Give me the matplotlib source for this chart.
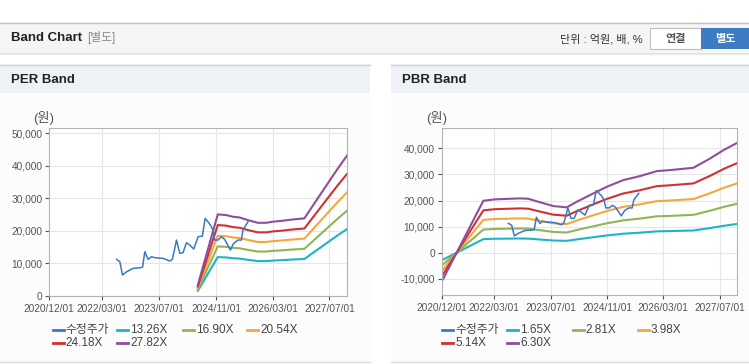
import matplotlib.pyplot as plt
import pandas as pd
from matplotlib.patches import Rectangle
from matplotlib.lines import Line2D
from matplotlib.ticker import FuncFormatter

plt.rcParams['font.family'] = ['Liberation Sans', 'Noto Sans CJK KR', 'DejaVu Sans']

# adjusted share price (same series on both charts)
price_dates = ['2022-07-01', '2022-07-29', '2022-08-21', '2022-09-25', '2022-11-20', '2023-01-23',
               '2023-02-09', '2023-02-28', '2023-03-29', '2023-04-27', '2023-05-25', '2023-08-04',
               '2023-09-30', '2023-10-23', '2023-11-27', '2023-12-25', '2024-01-22', '2024-02-20',
               '2024-03-20', '2024-04-23', '2024-05-30', '2024-07-06', '2024-07-29', '2024-08-23',
               '2024-09-13', '2024-10-05', '2024-10-20', '2024-11-17', '2024-12-16', '2025-01-13',
               '2025-03-03', '2025-03-31', '2025-05-07', '2025-06-05', '2025-06-19', '2025-08-01']
price = [11260, 10520, 6440, 7450, 8500, 8690, 8900, 13600, 11260, 12060, 11760, 11560,
         10740, 11300, 17180, 13100, 13290, 16350, 15640, 14420, 18190, 18400, 23830, 22790,
         21780, 20250, 17180, 17180, 18190, 17390, 14110, 16150, 17180, 17180, 20250, 22790]

# EPS used for PER band
eps_dates = ['2024-05-28', '2024-11-15', '2025-01-27', '2025-03-24', '2025-05-21', '2025-07-31',
             '2025-10-24', '2026-01-04', '2026-03-02', '2026-05-26', '2026-08-20', '2026-11-28',
             '2027-03-08', '2027-06-02', '2027-08-27', '2027-12-01']
eps = [121, 901, 893, 875, 867, 838, 808, 808, 820, 831, 845, 857, 1050, 1215, 1380, 1555]
per_mult = [13.26, 16.90, 20.54, 24.18, 27.82]

# BPS used for PBR band
bps_dates = ['2020-12-01', '2021-11-26', '2022-03-07', '2022-10-09', '2022-12-20', '2023-03-16',
             '2023-07-24', '2023-11-17', '2024-02-12', '2024-07-05', '2024-10-29', '2025-03-21',
             '2025-08-13', '2026-01-04', '2026-04-30', '2026-11-17', '2027-04-11', '2027-08-04',
             '2027-12-01']
bps = [-1762, 3162, 3248, 3308, 3284, 3102, 2840, 2760, 3102, 3613, 4014, 4422,
       4665, 4968, 5030, 5170, 5741, 6246, 6690]
pbr_mult = [1.65, 2.81, 3.98, 5.14, 6.30]

x_ticks = ['2020-12-01', '2022-03-01', '2023-07-01', '2024-11-01', '2026-03-01', '2027-07-01']
price_color = '#3a78c8'
band_colors = ['#1db4c6', '#8fb654', '#f3a83b', '#d03131', '#8f4d9d']

W, H = 749, 364
fig = plt.figure(figsize=(W / 100, H / 100), dpi=100)


def fx(x):
    return x / W


def fy(y):
    return 1 - y / H


def box(x0, y0, x1, y1, **kw):
    fig.patches.append(Rectangle((fx(x0), fy(y1)), (x1 - x0) / W, (y1 - y0) / H,
                                 transform=fig.transFigure, zorder=-1, **kw))


def hline(x0, x1, y, color, lw=1):
    fig.add_artist(Line2D([fx(x0), fx(x1)], [fy(y), fy(y)], color=color, lw=lw))


# header bar
box(0, 22, W, 52, facecolor='#f5f5f5', edgecolor='none')
hline(0, W, 22.5, '#c4c4c4')
hline(0, W, 52.5, '#dedede')
hline(0, W, 53.5, '#ececec')
fig.text(fx(11), fy(38), 'Band Chart', fontsize=9.5, fontweight='bold', color='#222222', va='center')
fig.text(fx(87), fy(38), '[별도]', fontsize=8.5, color='#8a8a8a', va='center')
fig.text(fx(643), fy(39), '단위 : 억원, 배, %', fontsize=8, color='#333333', va='center', ha='right')
box(650, 28, 701, 49, facecolor='white', edgecolor='#bdbdbd', lw=0.8)
fig.text(fx(675.5), fy(39), '연결', fontsize=8, fontweight='bold', color='#555555', ha='center', va='center')
box(701, 28, 749, 49, facecolor='#3d7cc4', edgecolor='none')
fig.text(fx(725), fy(39), '별도', fontsize=8, fontweight='bold', color='white', ha='center', va='center')

# panels
for x0, x1, title in [(0, 370, 'PER Band'), (391, W, 'PBR Band')]:
    box(x0, 93, x1, 362, facecolor='#fcfcfc', edgecolor='none')
    box(x0, 64, x1, 93, facecolor='#eef2f7', edgecolor='none')
    hline(x0, x1, 64.5, '#d5d5d5')
    hline(x0, x1, 362, '#dcdcdc')
    fig.text(fx(x0 + 11), fy(80), title, fontsize=9.5, fontweight='bold', color='#222222', va='center')

ax1 = fig.add_axes([fx(49.3), fy(296), 298 / W, (296 - 128.3) / H])
ax2 = fig.add_axes([fx(441.7), fy(295), 295.6 / W, (295 - 128.3) / H])

pd_price = pd.to_datetime(price_dates)

for ax, bdates, base, mult, ylim, yticks in [
        (ax1, eps_dates, eps, per_mult, (0, 51500), range(0, 50001, 10000)),
        (ax2, bps_dates, bps, pbr_mult, (-16200, 47700), range(-10000, 40001, 10000))]:
    bd = pd.to_datetime(bdates)
    for m, c in zip(mult, band_colors):
        ax.plot(bd, [v * m for v in base], color=c, lw=1.5, zorder=2)
    ax.plot(pd_price, price, color=price_color, lw=1.1, zorder=3)
    ax.set_xlim(pd.Timestamp('2020-12-01'), pd.Timestamp('2027-12-01'))
    ax.set_ylim(*ylim)
    ax.set_xticks(pd.to_datetime(x_ticks))
    ax.set_xticklabels([d.replace('-', '/') for d in x_ticks])
    ax.set_yticks(list(yticks))
    ax.yaxis.set_major_formatter(FuncFormatter(lambda v, p: f'{v:,.0f}'))
    ax.grid(True, color='#e6e6e6', lw=0.8)
    ax.set_axisbelow(True)
    for s in ax.spines.values():
        s.set_color('#b4b4b4')
        s.set_linewidth(0.8)
    ax.tick_params(labelsize=7.3, colors='#555555', length=3, width=0.8, pad=2)
    ax.tick_params(axis='x', pad=3)

fig.text(fx(44), fy(118), '(원)', fontsize=9.5, color='#555555', ha='center', va='center')
fig.text(fx(436.7), fy(118), '(원)', fontsize=9.5, color='#555555', ha='center', va='center')


def legend(x_starts, labels):
    colors = [price_color] + band_colors
    rows = [330, 343.3]
    for i, (lab, c) in enumerate(zip(labels, colors)):
        x = x_starts[i % 4]
        y = rows[i // 4]
        hline(x, x + 11, y, c, lw=2)
        fig.text(fx(x + 13), fy(y), lab, fontsize=8.5, color='#444444', va='center')


legend([52.7, 117, 182.7, 247], ['수정주가'] + [f'{m:.2f}X' for m in per_mult])
legend([442.3, 507.3, 572.7, 637.7], ['수정주가'] + [f'{m:.2f}X' for m in pbr_mult])

fig.savefig('out.png', dpi=100)
